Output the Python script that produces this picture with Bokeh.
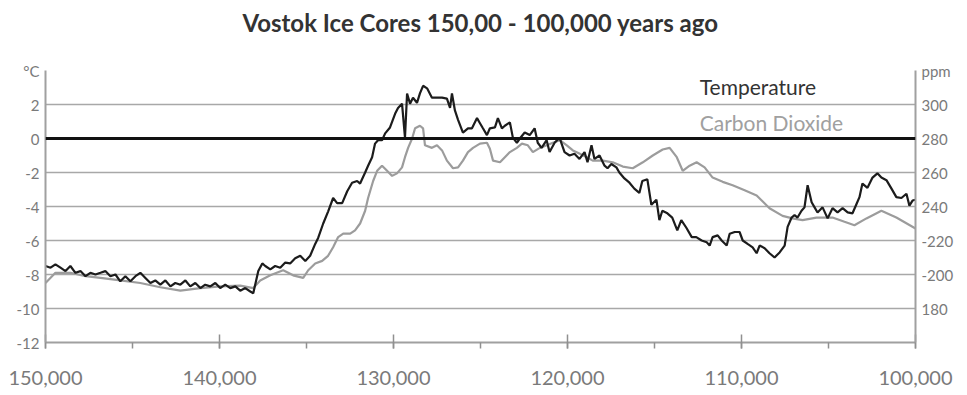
from bokeh.plotting import figure
from bokeh.models import (Range1d, LinearAxis, FixedTicker, SingleIntervalTicker,
                          NumeralTickFormatter, Span, Label, Title)
from bokeh.embed import file_html
from bokeh.resources import INLINE

# ---- data ----
temp_years = [
    150000, 149710, 149430, 149140, 148850, 148570, 148280, 147990, 147700, 147420,
    147130, 146840, 146560, 146270, 145980, 145700, 145410, 145120, 144830, 144550,
    144260, 143970, 143690, 143400, 143110, 142820, 142540, 142250, 141960, 141680,
    141390, 141100, 140820, 140530, 140240, 139960, 139670, 139380, 139090, 138810,
    138520, 138230, 138060, 137770, 137540, 137370, 137080, 136800, 136510, 136220,
    135940, 135650, 135360, 135070, 134790, 134500, 134330, 134040, 133760, 133470,
    133240, 132950, 132660, 132380, 132090, 131920, 131630, 131460, 131230, 131060,
    130890, 130660, 130480, 130200, 129910, 129740, 129510, 129340, 129220, 129050,
    128880, 128650, 128480, 128300, 128070, 127790, 127500, 127210, 126930, 126750,
    126640, 126470, 126290, 126010, 125720, 125490, 125200, 125030, 124860, 124630,
    124460, 124170, 124000, 123770, 123600, 123310, 123140, 122910, 122740, 122460,
    122170, 121890, 121710, 121490, 121200, 121030, 120740, 120460, 120170, 119880,
    119600, 119310, 119020, 118850, 118620, 118450, 118160, 117870, 117700, 117480,
    117190, 117020, 116730, 116440, 116160, 115870, 115700, 115410, 115180, 114890,
    114720, 114550, 114260, 113980, 113690, 113460, 113170, 112860, 112600, 112290,
    112000, 111830, 111660, 111370, 111140, 110850, 110680, 110390, 110110, 109930,
    109650, 109360, 109130, 108960, 108670, 108390, 108100, 107810, 107520, 107350,
    107120, 106950, 106780, 106550, 106380, 106200, 105970, 105800, 105630, 105340,
    105050, 104770, 104480, 104190, 103900, 103620, 103390, 103220, 103050, 102760,
    102470, 102190, 101960, 101670, 101380, 101100, 100810, 100520, 100350, 100170,
    100000,
]
temp_values = [
    -7.5, -7.6, -7.4, -7.6, -7.8, -7.5, -7.9, -7.8, -8.1, -7.9,
    -8.0, -7.9, -7.8, -8.1, -8.0, -8.4, -8.1, -8.4, -8.1, -7.9,
    -8.2, -8.5, -8.35, -8.6, -8.35, -8.7, -8.5, -8.6, -8.35, -8.7,
    -8.5, -8.8, -8.6, -8.7, -8.5, -8.8, -8.6, -8.8, -8.7, -8.95,
    -8.8, -9.0, -9.1, -7.8, -7.35, -7.5, -7.7, -7.5, -7.6, -7.3,
    -7.35, -7.05, -6.9, -7.2, -6.9, -6.2, -5.85, -5.0, -4.3, -3.5,
    -3.8, -3.8, -3.1, -2.6, -2.5, -2.65, -2.0, -1.6, -1.1, -0.3,
    -0.1, -0.1, 0.3, 0.65, 1.45, 1.8, 2.05, 0.05, 2.65, 2.05,
    2.4, 2.1, 2.65, 3.1, 2.95, 2.4, 2.4, 2.4, 2.35, 1.8,
    2.65, 1.65, 1.1, 0.35, 0.6, 0.6, 1.2, 0.9, 0.6, 0.2,
    0.6, 0.65, 1.2, 0.6, 0.75, 0.95, 0.05, -0.25, 0.0, 0.35,
    0.2, 0.6, -0.25, -0.55, -0.1, -0.8, -0.25, 0.05, -0.8, -1.0,
    -0.9, -1.2, -0.8, -1.4, -0.4, -1.2, -1.0, -1.6, -1.75, -1.5,
    -1.7, -2.0, -2.35, -2.6, -2.95, -3.2, -2.5, -2.4, -3.9, -3.6,
    -4.8, -4.25, -4.4, -4.65, -5.4, -4.8, -5.25, -5.8, -5.8, -6.0,
    -6.1, -6.3, -5.8, -5.7, -6.0, -6.3, -5.6, -5.5, -5.5, -6.0,
    -6.2, -6.4, -6.75, -6.3, -6.45, -6.75, -7.0, -6.7, -6.3, -5.2,
    -4.65, -4.5, -4.65, -4.25, -4.05, -2.75, -3.75, -4.05, -4.35, -4.05,
    -4.7, -4.1, -4.35, -4.1, -4.35, -4.4, -3.85, -3.45, -2.65, -2.9,
    -2.3, -2.05, -2.3, -2.45, -2.95, -3.45, -3.5, -3.25, -3.95, -3.65,
    -3.6,
]

co2_years = [
    150000, 149430, 148570, 147700, 146840, 145700, 144550, 143400, 142250, 141100,
    139960, 138810, 138060, 137660, 137080, 136340, 135770, 135190, 134900, 134500,
    134100, 133760, 133470, 133180, 132890, 132490, 132210, 131920, 131630, 131460,
    131170, 130940, 130660, 130370, 130080, 129800, 129510, 129340, 129160, 128930,
    128760, 128480, 128300, 128190, 127790, 127500, 127210, 126930, 126580, 126290,
    126010, 125720, 125430, 125030, 124630, 124460, 124280, 123880, 123600, 123310,
    122910, 122620, 122280, 121990, 121590, 121190, 120840, 120440, 120040, 119690,
    119290, 118890, 118550, 117970, 117400, 116820, 116250, 115670, 115100, 114530,
    114130, 113720, 113380, 112980, 112580, 112120, 111660, 111080, 110510, 109820,
    109130, 108390, 107640, 107070, 106490, 105690, 104770, 104080, 103510, 102820,
    101960, 101100, 100000,
]
co2_values = [
    195, 201, 201, 199, 198, 196.5, 195, 192.5, 190.5, 192,
    193, 193.5, 192, 196.5, 199.5, 202.5, 199.5, 198, 202.5, 206.5,
    208, 211, 216, 222, 224, 224, 226, 230, 237.5, 245,
    255, 261, 264, 261, 258, 259.5, 263, 269, 274.5, 280,
    286, 287.5, 286, 276, 274.5, 276, 273, 267, 262.5, 263,
    267, 272, 274.5, 277, 277.5, 274, 267, 266, 269, 272,
    274.5, 277, 276, 272, 274.5, 276, 277.5, 279, 276, 273,
    271, 269, 267, 267, 266, 263.5, 262.5, 266, 270, 273.5,
    274.5, 269, 261, 264, 266, 263, 257, 254.5, 252.5, 249.5,
    246.5, 239, 234.5, 233, 232, 233.5, 233.5, 231, 229, 233,
    237.5, 233.5, 227,
]

temp_ticks = [-12, -10, -8, -6, -4, -2, 0, 2, 4]
temp_labels = {-12: "-12", -10: "-10", -8: "-8", -6: "-6", -4: "-4",
               -2: "-2", 0: "0", 2: "2", 4: "°C"}
ppm_ticks = [180, 200, 220, 240, 260, 280, 300, 320]
ppm_labels = {180: "180", 200: "-200", 220: "-220", 240: "240",
              260: "260", 280: "280", 300: "300", 320: "ppm"}
year_tick_format = "0,0"
title_text = "Vostok Ice Cores 150,00 - 100,000 years ago"

FONT = "Lato"
LABEL_GREY = "#7a7a7a"

p = figure(width=967, height=395,
           x_range=Range1d(150000, 100000), y_range=Range1d(-12, 4),
           output_backend="svg", toolbar_location=None, title=None,
           min_border_left=45, min_border_right=52,
           min_border_top=70, min_border_bottom=53)
p.extra_y_ranges = {"ppm": Range1d(160, 320)}
p.outline_line_color = None
p.background_fill_color = "white"

# title: a thin spacer next to the frame, then the title above it
spacer = Title(text="\u00a0", text_font_size="2px", standoff=22)
main_title = Title(text=title_text, align="center", vertical_align="top", standoff=12,
                   text_font=FONT, text_font_size="24px", text_font_style="bold",
                   text_color="#333333")
p.add_layout(spacer, "above")
p.add_layout(main_title, "above")

# grid
p.xgrid.visible = False
p.ygrid.ticker = FixedTicker(ticks=[-10, -8, -6, -4, -2, 2, 4])
p.ygrid.grid_line_color = "#a8a8a8"
p.ygrid.grid_line_width = 1.5

# left axis
ya = p.yaxis[0]
ya.ticker = FixedTicker(ticks=temp_ticks)
ya.major_label_overrides = temp_labels
ya.major_tick_in = 0
ya.major_tick_out = 0
ya.minor_tick_line_color = None
ya.axis_line_color = "#a0a0a0"
ya.axis_line_width = 2
ya.major_label_text_font = FONT
ya.major_label_text_font_size = "15px"
ya.major_label_text_color = LABEL_GREY
ya.major_label_standoff = 6

# right axis
ra = LinearAxis(y_range_name="ppm", ticker=FixedTicker(ticks=ppm_ticks))
ra.major_label_overrides = ppm_labels
ra.major_tick_in = 0
ra.major_tick_out = 0
ra.minor_tick_line_color = None
ra.axis_line_color = "#a0a0a0"
ra.axis_line_width = 2
ra.major_label_text_font = FONT
ra.major_label_text_font_size = "15px"
ra.major_label_text_color = LABEL_GREY
ra.major_label_standoff = 6
p.add_layout(ra, "right")

# bottom axis
xa = p.xaxis[0]
xa.ticker = SingleIntervalTicker(interval=10000, num_minor_ticks=2)
xa.formatter = NumeralTickFormatter(format=year_tick_format)
xa.axis_line_color = "#a0a0a0"
xa.axis_line_width = 2
xa.major_tick_line_color = "#909090"
xa.major_tick_line_width = 1.5
xa.major_tick_in = 8
xa.major_tick_out = 6
xa.minor_tick_line_color = "#909090"
xa.minor_tick_line_width = 1.5
xa.minor_tick_in = 0
xa.minor_tick_out = 6
xa.major_label_text_font = FONT
xa.major_label_text_font_size = "20px"
xa.major_label_text_color = LABEL_GREY
xa.major_label_standoff = 22

# zero line
p.add_layout(Span(location=0, dimension="width", line_color="#111111", line_width=3))

# series
p.line(co2_years, co2_values, y_range_name="ppm", line_color="#9c9c9c", line_width=2.2)
p.line(temp_years, temp_values, line_color="#1c1c1c", line_width=2.2)

# legend texts
p.add_layout(Label(x=112400, y=3.05, text="Temperature", text_align="left", text_baseline="middle",
                   text_font=FONT, text_font_size="21px", text_color="#333333"))
p.add_layout(Label(x=112400, y=0.95, text="Carbon Dioxide", text_align="left", text_baseline="middle",
                   text_font=FONT, text_font_size="21px", text_color="#a0a0a0"))

open("out.html", "w").write(file_html(p, INLINE))
